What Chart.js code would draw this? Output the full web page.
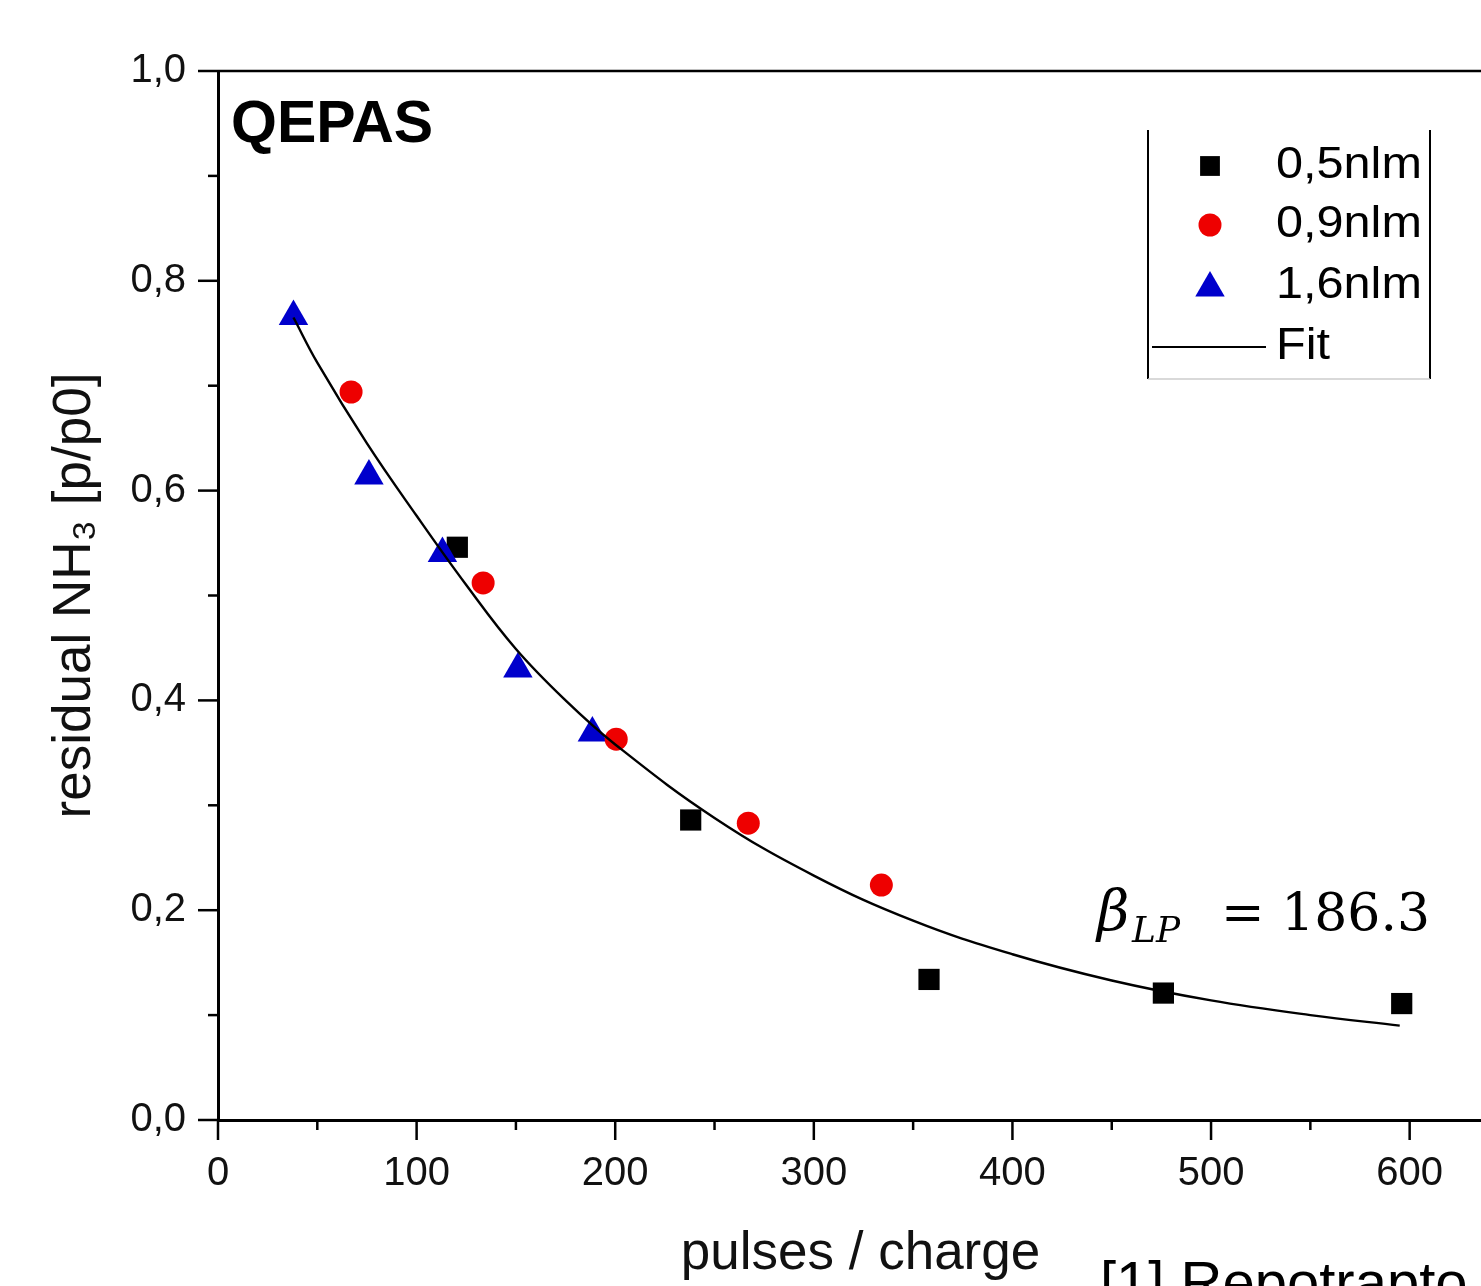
<!DOCTYPE html>
<html><head><meta charset="utf-8">
<script src="https://cdn.jsdelivr.net/npm/chart.js@4.4.0/dist/chart.umd.min.js"></script>
<style>
html,body{margin:0;padding:0;background:#fff;overflow:hidden;width:1481px;height:1286px}
#wrap{position:absolute;left:0;top:0;width:1520px;height:1286px}
</style></head>
<body><div id="wrap"><canvas id="c" width="1520" height="1286"></canvas></div>
<script>
// ---- data ----
const seriesLabels = ['0,5nlm', '0,9nlm', '1,6nlm', 'Fit'];
const x05 = [120.5, 238, 358, 476, 596];
const y05 = [0.546, 0.286, 0.134, 0.121, 0.111];
const x09 = [67, 133.5, 200.5, 267, 334];
const y09 = [0.694, 0.512, 0.363, 0.283, 0.224];
const x16 = [38, 76, 113, 151, 188.5];
const y16 = [0.766, 0.614, 0.540, 0.430, 0.369];
const xFit = [38, 50, 75, 100, 125, 150, 175, 200, 250, 300, 350, 400, 450, 500, 550, 595];
const yFit = [0.765, 0.722, 0.645, 0.576, 0.51, 0.449, 0.40, 0.358, 0.288, 0.233, 0.19, 0.158, 0.133, 0.114, 0.10, 0.09];
const xMajorTicks = [0, 100, 200, 300, 400, 500, 600];
const xMinorTicks = [50, 150, 250, 350, 450, 550];
const yMajorTicks = [0, 0.2, 0.4, 0.6, 0.8, 1.0];
const yMinorTicks = [0.1, 0.3, 0.5, 0.7, 0.9];
const yTickLabels = ['0,0', '0,2', '0,4', '0,6', '0,8', '1,0'];
const xTitle = 'pulses / charge';
const yTitle = 'residual NH\u2083 [p/p0]';
const panelLabel = 'QEPAS';
const betaValue = '186.3';
const refText = '[1] Repotrapto';

const pts = (xs, ys) => xs.map((v, i) => ({x: v, y: ys[i]}));
const SANS = "'Liberation Sans', Arial, sans-serif";

const decor = {
  id: 'decor',
  afterDraw(chart) {
    const {ctx, chartArea: a, scales: {x, y}} = chart;
    ctx.save();
    ctx.strokeStyle = '#000';
    ctx.lineCap = 'butt';
    const seg = (x1, y1, x2, y2, w) => { ctx.lineWidth = w; ctx.beginPath(); ctx.moveTo(x1, y1); ctx.lineTo(x2, y2); ctx.stroke(); };
    // top frame line
    seg(a.left, y.getPixelForValue(1), a.right, y.getPixelForValue(1), 2.5);
    // ticks
    yMajorTicks.forEach(v => { const p = y.getPixelForValue(v); seg(a.left - 20, p, a.left, p, 2.5); });
    yMinorTicks.forEach(v => { const p = y.getPixelForValue(v); seg(a.left - 10, p, a.left, p, 2.5); });
    xMajorTicks.forEach(v => { const p = x.getPixelForValue(v); seg(p, a.bottom, p, a.bottom + 20, 2.5); });
    xMinorTicks.forEach(v => { const p = x.getPixelForValue(v); seg(p, a.bottom, p, a.bottom + 10, 2.5); });

    // panel label
    ctx.fillStyle = '#000';
    ctx.textBaseline = 'alphabetic';
    ctx.textAlign = 'left';
    ctx.font = "bold 59px " + SANS;
    ctx.fillText(panelLabel, 231, 142);

    // legend
    const lx0 = 1148, lx1 = 1430, ly0 = 130, ly1 = 379;
    seg(lx0, ly0, lx0, ly1, 2);
    seg(lx1, ly0, lx1, ly1, 2);
    ctx.strokeStyle = '#cccccc';
    seg(lx0, ly1, lx1, ly1, 1.5);
    ctx.strokeStyle = '#000';
    const rows = [166, 225, 286, 347];
    const ds = chart.data.datasets;
    ctx.textBaseline = 'middle';
    for (let i = 0; i < 4; i++) {
      const d = ds.find(dd => dd.label === seriesLabels[i]);
      if (i < 3) {
        ctx.fillStyle = d.backgroundColor;
        const r = d.pointStyle === 'rect' ? 14 : (d.pointStyle === 'triangle' ? 17 : 11.5);
        Chart.helpers.drawPoint(ctx, {pointStyle: d.pointStyle, radius: r, borderWidth: 0, rotation: 0}, 1210, rows[i] + (d.pointStyle === 'triangle' ? 2 : 0));
      } else {
        ctx.strokeStyle = d.borderColor;
        seg(1152, rows[i], 1266, rows[i], 2);
      }
      ctx.fillStyle = '#000';
      ctx.save();
      ctx.translate(1276, rows[i]);
      ctx.scale(1.08, 1);
      ctx.font = "45px " + SANS;
      ctx.fillText(seriesLabels[i], 0, 0);
      ctx.restore();
    }

    // beta annotation
    ctx.textBaseline = 'alphabetic';
    ctx.fillStyle = '#000';
    ctx.font = "italic 56px 'DejaVu Serif', serif";
    ctx.fillText('\u03B2', 1097, 930);
    ctx.font = "italic 36px 'DejaVu Serif', serif";
    ctx.fillText('LP', 1132, 942);
    ctx.font = "52px 'DejaVu Serif', serif";
    ctx.textAlign = 'right';
    ctx.fillText('= ' + betaValue, 1430, 930);

    // reference text (cut at the bottom edge)
    ctx.textAlign = 'left';
    ctx.font = "58px " + SANS;
    ctx.fillText(refText, 1100, 1302);
    ctx.restore();
  }
};

new Chart(document.getElementById('c'), {
  data: {
    datasets: [
      {type: 'line', label: seriesLabels[3], data: pts(xFit, yFit), borderColor: '#000', borderWidth: 2.4,
       pointRadius: 0, fill: false, tension: 0.4, order: 0},
      {type: 'scatter', label: seriesLabels[1], data: pts(x09, y09), pointStyle: 'circle', pointRadius: 11.5,
       backgroundColor: '#ee0000', borderColor: '#ee0000', borderWidth: 0, order: 1},
      {type: 'scatter', label: seriesLabels[2], data: pts(x16, y16), pointStyle: 'triangle', pointRadius: 17,
       backgroundColor: '#0000cc', borderColor: '#0000cc', borderWidth: 0, order: 2},
      {type: 'scatter', label: seriesLabels[0], data: pts(x05, y05), pointStyle: 'rect', pointRadius: 15,
       backgroundColor: '#000', borderColor: '#000', borderWidth: 0, order: 3}
    ]
  },
  options: {
    responsive: false,
    animation: false,
    devicePixelRatio: 1,
    layout: {padding: {top: 71, right: 7, left: 0, bottom: 0}},
    plugins: {legend: {display: false}, tooltip: {enabled: false}},
    scales: {
      x: {
        type: 'linear', position: 'bottom', min: 0, max: 647,
        afterBuildTicks: s => { s.ticks = xMajorTicks.map(v => ({value: v})); },
        afterFit: s => { s.height = 166; },
        ticks: {font: {family: SANS, size: 40}, color: '#111', padding: 30, maxRotation: 0,
                callback: v => String(v)},
        grid: {drawOnChartArea: false, drawTicks: false},
        border: {display: true, color: '#000', width: 3},
        title: {display: true, text: xTitle, font: {family: SANS, size: 53}, color: '#111', padding: {top: 0, bottom: 0}}
      },
      y: {
        type: 'linear', position: 'left', min: 0, max: 1,
        afterBuildTicks: s => { s.ticks = yMajorTicks.map(v => ({value: v})); },
        afterFit: s => { s.width = 218; },
        ticks: {font: {family: SANS, size: 40}, color: '#111', padding: 32,
                callback: v => yTickLabels[yMajorTicks.findIndex(t => Math.abs(t - v) < 1e-6)]},
        grid: {drawOnChartArea: false, drawTicks: false},
        border: {display: true, color: '#000', width: 3},
        title: {display: true, text: yTitle, font: {family: SANS, size: 53}, color: '#111', padding: {top: 44, bottom: 0}}
      }
    }
  },
  plugins: [decor]
});
</script>
</body></html>
